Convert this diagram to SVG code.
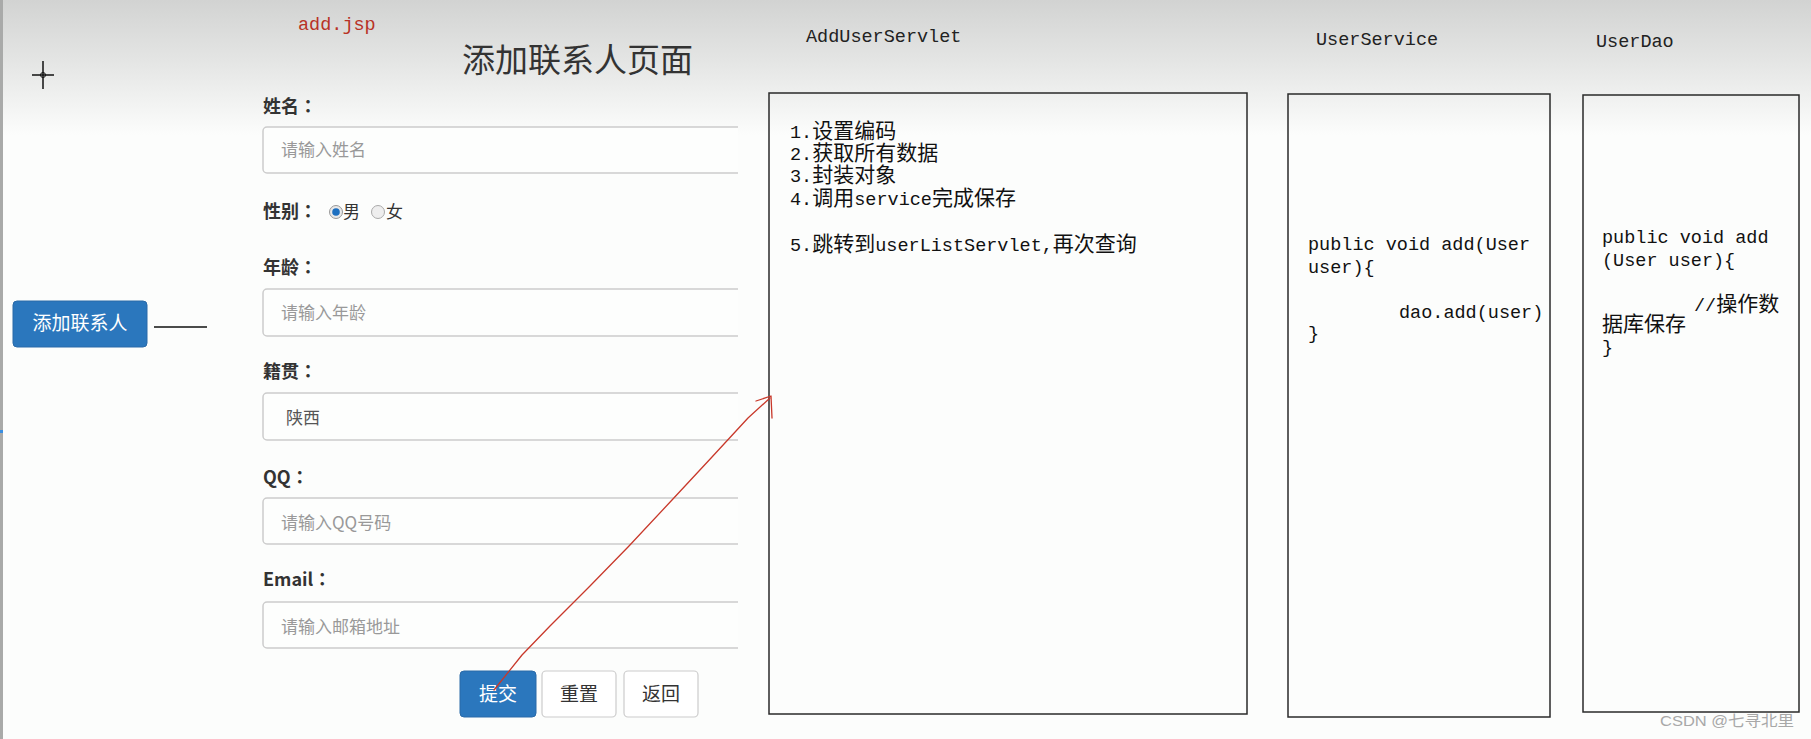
<svg xmlns="http://www.w3.org/2000/svg" width="1811" height="739" viewBox="0 0 1811 739">
<defs>
<linearGradient id="bg" x1="0" y1="0" x2="0" y2="1">
<stop offset="0" stop-color="#d2d3d2"/>
<stop offset="0.45" stop-color="#e4e5e4"/>
<stop offset="1" stop-color="#fcfdfc"/>
</linearGradient>
<clipPath id="formclip"><rect x="0" y="0" width="738" height="739"/></clipPath>
<style>
.lbl{font-family:"Noto Sans CJK SC","Liberation Sans",sans-serif;font-size:18px;font-weight:bold;fill:#333}
.col{font-family:"Noto Sans CJK TC","Noto Sans CJK SC",sans-serif}
.ph{font-family:"Noto Sans CJK SC","Liberation Sans",sans-serif;font-size:17px;fill:#999}
.val{font-family:"Noto Sans CJK SC","Liberation Sans",sans-serif;font-size:17px;fill:#555}
.inp{fill:#fdfefd;stroke:#cccccc;stroke-width:1.5}
.btnb{fill:#2b77bd;stroke:#2a6aa8;stroke-width:1}
.btnw{fill:#ffffff;stroke:#cccccc;stroke-width:1.2}
.btxt{font-family:"Noto Sans CJK SC","Liberation Sans",sans-serif;font-size:19px;text-anchor:middle}
.box{fill:none;stroke:#2a2a2a;stroke-width:1.5}
.cjk{font-family:"Noto Sans CJK SC","Liberation Sans",sans-serif;font-size:21px;fill:#111}
.m{font-family:"Liberation Mono","DejaVu Sans Mono",monospace;font-size:18.5px;fill:#111}
.ttl{font-family:"Liberation Mono","DejaVu Sans Mono",monospace;font-size:18.5px;fill:#222}
.red{fill:none;stroke:#c8382a;stroke-width:1.3;stroke-linejoin:round;stroke-linecap:round}
</style>
</defs>

<rect x="0" y="0" width="1811" height="739" fill="#fcfdfc"/>
<rect x="0" y="0" width="1811" height="135" fill="url(#bg)"/>
<rect x="0" y="0" width="3" height="739" fill="#a9aaa9"/>
<rect x="0" y="430" width="3" height="3" fill="#3a8ee0"/>

<g id="crosshair" stroke="#111" stroke-width="1.5" fill="none">
<line x1="43" y1="61" x2="43" y2="89"/>
<line x1="32" y1="75" x2="54" y2="75"/>
<circle cx="43" cy="75" r="2.5" stroke-width="1"/>
</g>

<g id="addjsp-title">
<text x="298" y="30" font-family="Liberation Mono,DejaVu Sans Mono,monospace" font-size="18.5" fill="#b83226">add.jsp</text>
</g>

<g id="page-title">
<text x="462" y="72" font-family="Noto Sans CJK SC,Liberation Sans,sans-serif" font-size="33" fill="#333">添加联系人页面</text>
</g>

<g id="add-contact-button">
<rect x="13" y="301" width="134" height="46" rx="4" class="btnb"/>
<text x="80" y="330" class="btxt" fill="#fff" font-size="17">添加联系人</text>
</g>

<g id="form" clip-path="url(#formclip)">
<text x="263" y="113" class="lbl">姓名<tspan class="col">：</tspan></text>
<rect x="263" y="127" width="520" height="46" rx="4" class="inp"/>
<text x="281" y="156" class="ph">请输入姓名</text>

<text x="263" y="218" class="lbl">性别<tspan class="col">：</tspan></text>
<circle cx="336" cy="212" r="6.5" fill="#e8e8e8" stroke="#999" stroke-width="1"/>
<circle cx="336" cy="212" r="3.8" fill="#1c6fc0"/>
<text x="343" y="218" class="val" style="fill:#333">男</text>
<circle cx="378" cy="212" r="6.5" fill="#eeeeee" stroke="#aaa" stroke-width="1"/>
<text x="386" y="218" class="val" style="fill:#333">女</text>

<text x="263" y="274" class="lbl">年龄<tspan class="col">：</tspan></text>
<rect x="263" y="289" width="520" height="47" rx="4" class="inp"/>
<text x="281" y="319" class="ph">请输入年龄</text>

<text x="263" y="378" class="lbl">籍贯<tspan class="col">：</tspan></text>
<rect x="263" y="393" width="520" height="47" rx="4" class="inp"/>
<text x="286" y="424" class="val">陕西</text>

<text x="263" y="484" class="lbl">QQ<tspan class="col">：</tspan></text>
<rect x="263" y="498" width="520" height="46" rx="4" class="inp"/>
<text x="281" y="529" class="ph">请输入QQ号码</text>

<text x="263" y="586" class="lbl">Email<tspan class="col">：</tspan></text>
<rect x="263" y="602" width="520" height="46" rx="4" class="inp"/>
<text x="281" y="633" class="ph">请输入邮箱地址</text>
</g>

<g id="btn-submit">
<rect x="460" y="671" width="76" height="46" rx="4" class="btnb"/>
<text x="498" y="701" class="btxt" fill="#fff">提交</text>
</g>
<g id="btn-reset">
<rect x="542" y="671" width="74" height="46" rx="4" class="btnw"/>
<text x="579" y="701" class="btxt" fill="#333">重置</text>
</g>
<g id="btn-back">
<rect x="624" y="671" width="74" height="46" rx="4" class="btnw"/>
<text x="661" y="701" class="btxt" fill="#333">返回</text>
</g>

<g id="servlet">
<text x="806" y="42" class="ttl">AddUserServlet</text>
<rect x="769" y="93" width="478" height="621" class="box"/>
<text x="790" y="138" class="cjk"><tspan class="m">1.</tspan>设置编码</text>
<text x="790" y="160" class="cjk"><tspan class="m">2.</tspan>获取所有数据</text>
<text x="790" y="182" class="cjk"><tspan class="m">3.</tspan>封装对象</text>
<text x="790" y="205" class="cjk"><tspan class="m">4.</tspan>调用<tspan class="m">service</tspan>完成保存</text>
<text x="790" y="251" class="cjk"><tspan class="m">5.</tspan>跳转到<tspan class="m">userListServlet,</tspan>再次查询</text>
</g>

<g id="service">
<text x="1316" y="45" class="ttl">UserService</text>
<rect x="1288" y="94" width="262" height="623" class="box"/>
<text x="1308" y="250" class="m">public void add(User</text>
<text x="1308" y="273" class="m">user){</text>
<text x="1399" y="318" class="m">dao.add(user)</text>
<text x="1308" y="339" class="m">}</text>
</g>

<g id="dao">
<text x="1596" y="47" class="ttl">UserDao</text>
<rect x="1583" y="95" width="216" height="617" class="box"/>
<text x="1602" y="243" class="m">public void add</text>
<text x="1602" y="266" class="m">(User user){</text>
<text x="1694" y="311" class="cjk"><tspan class="m">//</tspan>操作数</text>
<text x="1602" y="331" class="cjk">据库保存</text>
<text x="1602" y="353" class="m">}</text>
</g>

<g id="connectors">
<line x1="154" y1="327" x2="207" y2="327" stroke="#111" stroke-width="1.5"/>
<polyline class="red" points="494,690 522,655 550,626 590,586 629,546 672,500 712,457 748,418 770,398"/>
<polyline class="red" points="756,401 771,396 772,418"/>
</g>

<g id="watermark">
<text x="1660" y="726" font-family="Liberation Sans,Noto Sans CJK SC,sans-serif" font-size="15" fill="#a8a8a8" textLength="134" lengthAdjust="spacingAndGlyphs">CSDN @七寻北里</text>
</g>
</svg>
